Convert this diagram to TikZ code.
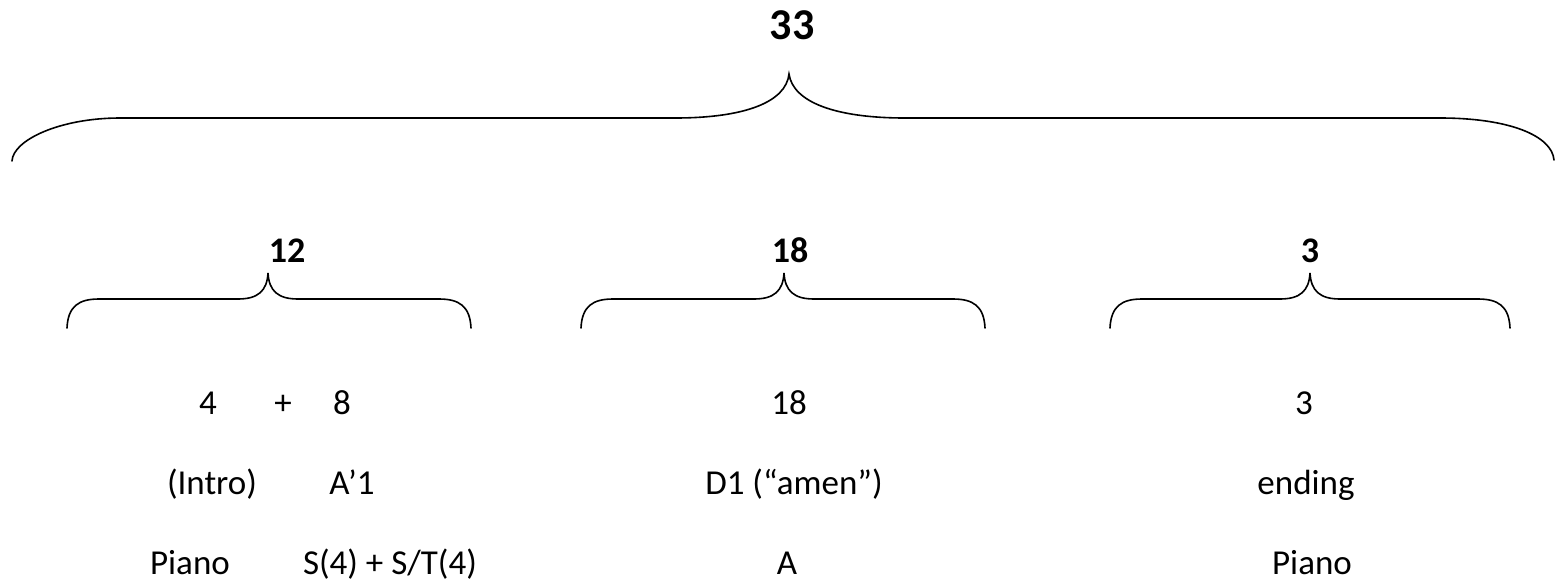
\documentclass[tikz,border=0pt]{standalone}
\usepackage{fontspec}
\setmainfont{Carlito}
\begin{document}
\begin{tikzpicture}[x=1pt,y=-1pt,
  brace/.style={line width=1.6pt, line cap=round},
  big/.style={font=\fontsize{44}{50}\selectfont\bfseries, anchor=base, inner sep=0pt},
  mid/.style={font=\fontsize{36}{42}\selectfont\bfseries, anchor=base, inner sep=0pt},
  txt/.style={font=\fontsize{35}{42}\selectfont, anchor=base, inner sep=0pt}]
\useasboundingbox (0,0) rectangle (1556,582);
% top label and brace
\node[big] (t33) at (792,39) {33};
\draw[brace] (12,161) .. controls (13,140) and (60,118) .. (120,118) -- (675,118)
  .. controls (745,118) and (786,102) .. (789,74)
  .. controls (793,102) and (835,118) .. (905,118) -- (1440,118)
  .. controls (1510,118) and (1552,136) .. (1554,160);
% second level labels
\node[mid] (t12) at (287,262) {12};
\node[mid] (t18) at (790,262) {18};
\node[mid] (t3) at (1310,262) {3};
% small braces
\foreach \l/\m/\r in {67/268/471, 581/784/985, 1110/1310/1510}{
  \draw[brace] (\l,328) .. controls (\l+1,306) and (\l+12,299) .. (\l+32,299) -- (\m-30,299)
    .. controls (\m-10,299) and (\m-1,291) .. (\m,273)
    .. controls (\m+1,291) and (\m+10,299) .. (\m+30,299) -- (\r-32,299)
    .. controls (\r-12,299) and (\r-1,306) .. (\r,328);
}
% bottom rows
\node[txt] (n4) at (208,414) {4};
\node[txt] (nplus) at (283,414) {+};
\node[txt] (n8) at (342,414) {8};
\node[txt] (n18) at (789,414) {18};
\node[txt] (n3) at (1304,414) {3};
\node[txt] (intro) at (212,494) {(Intro)};
\node[txt] (a1) at (352,494) {A’1};
\node[txt] (d1) at (794,494) {D1 (“amen”)};
\node[txt] (ending) at (1306,494) {ending};
\node[txt] (piano1) at (190,574) {Piano};
\node[txt] (st) at (390,574) {S(4) + S/T(4)};
\node[txt] (na) at (787,574) {A};
\node[txt] (piano2) at (1312,574) {Piano};
\end{tikzpicture}
\end{document}
